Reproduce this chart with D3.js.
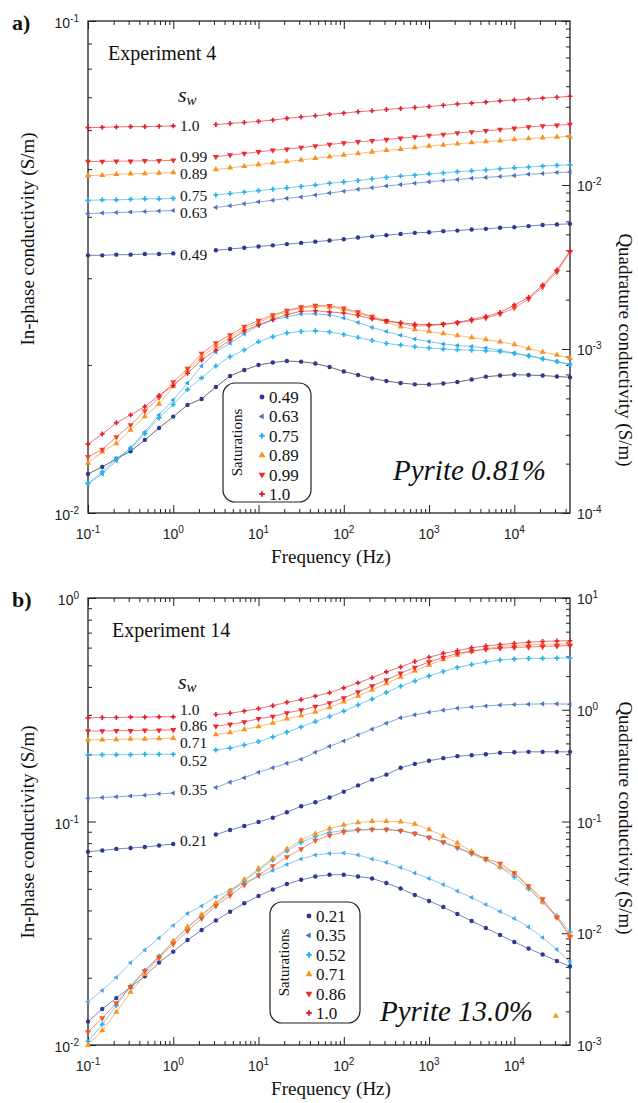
<!DOCTYPE html>
<html>
<head>
<meta charset="utf-8">
<script src="https://cdn.jsdelivr.net/npm/d3@7/dist/d3.min.js"></script>
<style>
  body { margin: 0; background: #fff; }
</style>
</head>
<body>
<script>
var width = 638;
var height = 1103;

// measurement frequencies (Hz)
var freqs = [0.1,0.147,0.215,0.316,0.464,0.681,1,1.47,2.15,3.16,4.64,6.81,10,14.7,21.5,31.6,46.4,68.1,
  100,147,215,316,464,681,1000,1470,2150,3160,4640,6810,10000,14700,21500,31600,45000];

var satA = ["0.49","0.63","0.75","0.89","0.99","1.0"];
var satB = ["0.21","0.35","0.52","0.71","0.86","1.0"];

// panel a, in-phase conductivity (S/m)
var aIn049 = [0.0334,0.0334,0.0335,0.0335,0.0336,0.0336,0.0337,null,null,0.0342,0.0344,0.0346,0.0348,0.0350,0.0352,0.0354,0.0356,0.0358,0.0360,0.0363,0.0365,0.0367,0.0369,0.0371,0.0372,0.0374,0.0375,0.0377,0.0378,0.0380,0.0381,0.0383,0.0385,0.0386,0.0387];
var aIn063 = [0.0406,0.0407,0.0408,0.0409,0.0410,0.0411,0.0412,null,null,0.0418,0.0421,0.0425,0.0429,0.0432,0.0436,0.0439,0.0443,0.0447,0.0451,0.0455,0.0458,0.0462,0.0465,0.0468,0.0471,0.0474,0.0476,0.0479,0.0481,0.0483,0.0485,0.0488,0.0490,0.0492,0.0493];
var aIn075 = [0.0432,0.0433,0.0433,0.0434,0.0435,0.0435,0.0436,null,null,0.0443,0.0446,0.0449,0.0452,0.0455,0.0458,0.0461,0.0464,0.0468,0.0471,0.0474,0.0478,0.0481,0.0484,0.0486,0.0489,0.0491,0.0494,0.0496,0.0498,0.0501,0.0503,0.0505,0.0507,0.0509,0.0510];
var aIn089 = [0.0485,0.0486,0.0488,0.0489,0.0490,0.0491,0.0492,null,null,0.0499,0.0503,0.0507,0.0511,0.0515,0.0518,0.0522,0.0526,0.0530,0.0534,0.0538,0.0542,0.0546,0.0549,0.0553,0.0557,0.0560,0.0563,0.0566,0.0569,0.0571,0.0574,0.0577,0.0579,0.0581,0.0582];
var aIn099 = [0.0518,0.0518,0.0519,0.0519,0.0520,0.0520,0.0521,null,null,0.0530,0.0534,0.0538,0.0542,0.0546,0.0549,0.0553,0.0557,0.0561,0.0565,0.0568,0.0571,0.0574,0.0578,0.0581,0.0585,0.0588,0.0592,0.0595,0.0598,0.0602,0.0605,0.0609,0.0612,0.0614,0.0616];
var aIn100 = [0.0607,0.0608,0.0609,0.0610,0.0610,0.0611,0.0612,null,null,0.0616,0.0619,0.0622,0.0625,0.0629,0.0634,0.0638,0.0642,0.0646,0.0650,0.0654,0.0657,0.0661,0.0664,0.0667,0.0670,0.0674,0.0678,0.0681,0.0684,0.0688,0.0691,0.0694,0.0697,0.0700,0.0703];

// panel a, quadrature conductivity (S/m)
var aQ049 = [1.73e-4,1.91e-4,2.14e-4,2.38e-4,2.79e-4,3.30e-4,3.87e-4,4.56e-4,4.96e-4,5.87e-4,6.85e-4,7.45e-4,7.99e-4,8.27e-4,8.45e-4,8.37e-4,8.16e-4,7.77e-4,7.29e-4,6.94e-4,6.61e-4,6.38e-4,6.20e-4,6.09e-4,6.08e-4,6.16e-4,6.29e-4,6.52e-4,6.78e-4,6.89e-4,6.97e-4,6.94e-4,6.89e-4,6.80e-4,6.72e-4];
var aQ063 = [1.50e-4,1.73e-4,2.08e-4,2.49e-4,3.12e-4,3.96e-4,4.89e-4,6.20e-4,7.88e-4,9.59e-4,1.083e-3,1.234e-3,1.391e-3,1.503e-3,1.567e-3,1.634e-3,1.639e-3,1.612e-3,1.545e-3,1.451e-3,1.353e-3,1.279e-3,1.212e-3,1.151e-3,1.111e-3,1.073e-3,1.050e-3,1.036e-3,1.014e-3,9.79e-4,9.45e-4,9.13e-4,8.75e-4,8.39e-4,7.99e-4];
var aQ075 = [1.52e-4,1.78e-4,2.15e-4,2.48e-4,3.05e-4,3.80e-4,4.59e-4,5.66e-4,6.66e-4,7.88e-4,8.98e-4,9.86e-4,1.106e-3,1.189e-3,1.252e-3,1.279e-3,1.291e-3,1.269e-3,1.226e-3,1.175e-3,1.127e-3,1.080e-3,1.058e-3,1.033e-3,1.014e-3,1.000e-3,9.90e-4,9.83e-4,9.75e-4,9.64e-4,9.39e-4,9.07e-4,8.69e-4,8.39e-4,8.10e-4];
var aQ089 = [2.02e-4,2.36e-4,2.65e-4,3.21e-4,3.88e-4,4.62e-4,5.91e-4,7.39e-4,8.94e-4,1.043e-3,1.175e-3,1.324e-3,1.451e-3,1.578e-3,1.693e-3,1.778e-3,1.816e-3,1.804e-3,1.741e-3,1.658e-3,1.556e-3,1.461e-3,1.368e-3,1.315e-3,1.279e-3,1.243e-3,1.209e-3,1.175e-3,1.143e-3,1.108e-3,1.065e-3,1.007e-3,9.59e-4,9.19e-4,8.78e-4];
var aQ099 = [2.20e-4,2.44e-4,2.91e-4,3.44e-4,4.19e-4,5.06e-4,6.29e-4,7.60e-4,9.39e-4,1.088e-3,1.217e-3,1.372e-3,1.492e-3,1.612e-3,1.717e-3,1.804e-3,1.842e-3,1.837e-3,1.771e-3,1.681e-3,1.578e-3,1.488e-3,1.431e-3,1.381e-3,1.387e-3,1.415e-3,1.441e-3,1.492e-3,1.545e-3,1.634e-3,1.778e-3,2.018e-3,2.388e-3,2.948e-3,3.904e-3];
var aQ100 = [2.63e-4,3.03e-4,3.55e-4,3.96e-4,4.45e-4,5.21e-4,5.99e-4,7.11e-4,8.57e-4,9.86e-4,1.135e-3,1.288e-3,1.401e-3,1.513e-3,1.623e-3,1.698e-3,1.710e-3,1.681e-3,1.658e-3,1.601e-3,1.528e-3,1.482e-3,1.447e-3,1.415e-3,1.407e-3,1.415e-3,1.451e-3,1.513e-3,1.578e-3,1.670e-3,1.855e-3,2.061e-3,2.456e-3,3.031e-3,3.959e-3];

// panel b, in-phase conductivity (S/m)
var bIn021 = [0.0733,0.0742,0.0754,0.0761,0.0769,0.0781,0.0793,null,null,0.0875,0.0916,0.0955,0.0995,0.104,0.110,0.117,0.122,0.128,0.136,0.145,0.154,0.162,0.174,0.181,0.187,0.192,0.196,0.198,0.200,0.203,0.204,0.205,0.205,0.205,0.205];
var bIn035 = [0.127,0.128,0.129,0.130,0.131,0.133,0.134,null,null,0.142,0.150,0.157,0.166,0.174,0.182,0.190,0.204,0.217,0.229,0.244,0.259,0.275,0.291,0.300,0.308,0.315,0.321,0.325,0.329,0.332,0.334,0.335,0.336,0.336,0.335];
var bIn052 = [0.198,0.199,0.199,0.199,0.200,0.200,0.200,null,null,0.209,0.213,0.220,0.228,0.239,0.251,0.265,0.280,0.295,0.312,0.332,0.353,0.378,0.403,0.425,0.448,0.469,0.489,0.504,0.517,0.528,0.534,0.536,0.537,0.538,0.539];
var bIn071 = [0.232,0.232,0.233,0.234,0.234,0.235,0.236,null,null,0.245,0.250,0.258,0.266,0.276,0.288,0.297,0.309,0.324,0.343,0.364,0.388,0.414,0.443,0.472,0.501,0.531,0.556,0.576,0.594,0.606,0.613,0.618,0.621,0.623,0.623];
var bIn086 = [0.254,0.254,0.255,0.255,0.256,0.256,0.257,null,null,0.267,0.272,0.279,0.288,0.295,0.306,0.315,0.327,0.339,0.357,0.380,0.404,0.430,0.460,0.489,0.517,0.542,0.565,0.579,0.590,0.596,0.601,0.604,0.607,0.610,0.613];
var bIn100 = [0.291,0.292,0.292,0.293,0.293,0.294,0.294,null,null,0.301,0.305,0.312,0.320,0.330,0.341,0.351,0.364,0.377,0.396,0.417,0.440,0.467,0.491,0.520,0.543,0.565,0.581,0.599,0.610,0.619,0.626,0.634,0.639,0.642,0.644];

// panel b, quadrature conductivity (S/m); no quadrature curve for 1.0
var bQ021 = [1.62e-3,2.10e-3,2.63e-3,3.30e-3,4.12e-3,5.47e-3,6.84e-3,8.70e-3,1.069e-2,1.301e-2,1.559e-2,1.854e-2,2.154e-2,2.463e-2,2.759e-2,3.008e-2,3.220e-2,3.334e-2,3.342e-2,3.220e-2,3.090e-2,2.817e-2,2.514e-2,2.199e-2,1.944e-2,1.718e-2,1.487e-2,1.287e-2,1.114e-2,9.65e-3,8.35e-3,7.30e-3,6.45e-3,5.65e-3,5.04e-3];
var bQ035 = [2.44e-3,3.07e-3,4.02e-3,5.45e-3,7.08e-3,9.07e-3,1.173e-2,1.502e-2,1.753e-2,2.111e-2,2.438e-2,2.817e-2,3.220e-2,3.644e-2,4.123e-2,4.617e-2,5.014e-2,5.172e-2,5.225e-2,5.014e-2,4.617e-2,4.296e-2,3.877e-2,3.461e-2,3.090e-2,2.731e-2,2.388e-2,2.089e-2,1.808e-2,1.565e-2,1.355e-2,1.137e-2,9.16e-3,7.15e-3,5.53e-3];
var bQ052 = [1.08e-3,1.53e-3,2.26e-3,3.37e-3,4.64e-3,6.26e-3,8.44e-3,1.114e-2,1.441e-2,1.827e-2,2.316e-2,2.935e-2,3.681e-2,4.523e-2,5.445e-2,6.488e-2,7.340e-2,7.973e-2,8.309e-2,8.464e-2,8.517e-2,8.482e-2,8.257e-2,7.779e-2,7.192e-2,6.488e-2,5.794e-2,5.119e-2,4.523e-2,3.916e-2,3.187e-2,2.489e-2,1.904e-2,1.427e-2,1.026e-2];
var bQ071 = [1.00e-3,1.35e-3,1.97e-3,2.98e-3,4.27e-3,6.07e-3,8.52e-3,1.137e-2,1.472e-2,1.865e-2,2.388e-2,3.027e-2,3.798e-2,4.667e-2,5.674e-2,6.831e-2,7.779e-2,8.658e-2,9.305e-2,9.797e-2,1.004e-1,1.006e-1,9.938e-2,9.497e-2,8.482e-2,7.418e-2,6.421e-2,5.390e-2,4.571e-2,3.916e-2,3.426e-2,2.594e-2,1.904e-2,1.398e-2,9.65e-3];
var bQ086 = [1.31e-3,1.74e-3,2.38e-3,3.32e-3,4.59e-3,6.07e-3,8.01e-3,1.047e-2,1.355e-2,1.753e-2,2.176e-2,2.703e-2,3.321e-2,3.998e-2,4.813e-2,5.674e-2,6.761e-2,7.496e-2,8.054e-2,8.342e-2,8.482e-2,8.482e-2,8.276e-2,7.811e-2,7.192e-2,6.556e-2,5.853e-2,5.225e-2,4.667e-2,4.209e-2,3.461e-2,2.648e-2,2.025e-2,1.383e-2,9.31e-3];
// a lone 0.71 point sitting away from its curve
var bQ071Stray = [{f: 30700, v: 1.82e-3}];

// tick exponents
var xExp = [-1, 0, 1, 2, 3, 4];

// styling per saturation step (lowest to highest)
var markColors = ["#2b3990", "#4b6fc0", "#27b2ea", "#f7931e", "#ec2a2f", "#e01f2b"];
var symbols = [d3.symbolCircle, d3.symbolTriangle, d3.symbolCross, d3.symbolTriangle, d3.symbolTriangle, d3.symbolCross];
var symbolRot = [0, -90, 0, 0, 180, 0];
var symbolSize = [15, 11, 14, 16, 16, 13];

var serif = "'Liberation Serif', 'Times New Roman', serif";
var sans = "'Liberation Sans', Arial, sans-serif";

var svg = d3.select('body').append('svg').attr('width', width).attr('height', height);

var x = d3.scaleLog().domain([0.1, 45000]).range([88, 570]);

var minorTicks = function(domain) {
  var out = [];
  var lo = Math.round(Math.log10(domain[0]));
  var hi = Math.ceil(Math.log10(domain[1]));
  for (var d = lo; d < hi; d++) {
    for (var k = 2; k <= 9; k++) {
      var v = k * Math.pow(10, d);
      if (v > domain[0] && v < domain[1]) out.push(v);
    }
  }
  return out;
};

var serifText = function(g) {
  return g.append('text').style('font-family', serif).attr('fill', '#111');
};

var powText = function(g, px, py, exp, anchor) {
  var t = g.append('text').style('font-family', sans).attr('font-size', 14).attr('fill', '#222')
    .attr('x', px).attr('y', py).attr('text-anchor', anchor);
  t.append('tspan').text('10');
  t.append('tspan').attr('dy', -6).attr('font-size', 10).text(exp);
  return t;
};

var drawSeries = function(g, yScale, vals, i, color, lineColor) {
  var pts = freqs.map(function(f, j) { return {f: f, v: vals[j]}; });
  var line = d3.line()
    .defined(function(d) { return d.v != null; })
    .x(function(d) { return x(d.f); })
    .y(function(d) { return yScale(d.v); });
  g.append('path').datum(pts).attr('d', line).attr('fill', 'none')
    .attr('stroke', lineColor || color).attr('stroke-width', 0.9).attr('stroke-opacity', 0.7);
  drawMarks(g, yScale, pts.filter(function(d) { return d.v != null; }), i, color);
};

var drawMarks = function(g, yScale, pts, i, color) {
  g.selectAll(null).data(pts).enter().append('path')
    .attr('d', d3.symbol().type(symbols[i]).size(symbolSize[i]))
    .attr('transform', function(d) {
      return 'translate(' + x(d.f) + ',' + yScale(d.v) + ') rotate(' + symbolRot[i] + ')';
    })
    .attr('fill', color);
};

var drawPanel = function(p) {
  var yIn = d3.scaleLog().domain(p.inDomain).range([p.bottom, p.top]);
  var yQ = d3.scaleLog().domain(p.qDomain).range([p.bottom, p.top]);
  var g = svg.append('g');

  var tickStyle = function(sel) {
    sel.select('.domain').remove();
    sel.selectAll('.tick line').attr('stroke', '#222').attr('stroke-width', 1);
  };
  var xMajor = xExp.map(function(e) { return Math.pow(10, e); });
  var xMinor = minorTicks(x.domain());
  [[d3.axisBottom, p.bottom], [d3.axisTop, p.top]].forEach(function(a) {
    g.append('g').attr('transform', 'translate(0,' + a[1] + ')')
      .call(a[0](x).tickValues(xMajor).tickSize(-8).tickFormat('')).call(tickStyle);
    g.append('g').attr('transform', 'translate(0,' + a[1] + ')')
      .call(a[0](x).tickValues(xMinor).tickSize(-4).tickFormat('')).call(tickStyle);
  });
  var inMajor = p.inExp.map(function(e) { return Math.pow(10, e); });
  var qMajor = p.qExp.map(function(e) { return Math.pow(10, e); });
  g.append('g').attr('transform', 'translate(88,0)')
    .call(d3.axisLeft(yIn).tickValues(inMajor).tickSize(-8).tickFormat('')).call(tickStyle);
  g.append('g').attr('transform', 'translate(88,0)')
    .call(d3.axisLeft(yIn).tickValues(minorTicks(p.inDomain)).tickSize(-4).tickFormat('')).call(tickStyle);
  g.append('g').attr('transform', 'translate(570,0)')
    .call(d3.axisRight(yQ).tickValues(qMajor).tickSize(-8).tickFormat('')).call(tickStyle);
  g.append('g').attr('transform', 'translate(570,0)')
    .call(d3.axisRight(yQ).tickValues(minorTicks(p.qDomain)).tickSize(-4).tickFormat('')).call(tickStyle);

  g.append('rect').attr('x', 88).attr('y', p.top).attr('width', 482).attr('height', p.bottom - p.top)
    .attr('fill', 'none').attr('stroke', '#222').attr('stroke-width', 1.3);

  // tick labels
  xExp.forEach(function(e) { powText(g, x(Math.pow(10, e)), p.bottom + 26, e, 'middle'); });
  p.inExp.forEach(function(e) { powText(g, 79, yIn(Math.pow(10, e)) + 7, e, 'end'); });
  p.qLabelExp.forEach(function(e) { powText(g, 577, yQ(Math.pow(10, e)) + 6, e, 'start'); });

  // axis titles
  serifText(g).attr('x', 331).attr('y', p.bottom + 50).attr('text-anchor', 'middle')
    .attr('font-size', 19).text('Frequency (Hz)');
  serifText(g).attr('transform', 'translate(34,' + p.inMid + ') rotate(-90)')
    .attr('text-anchor', 'middle').attr('font-size', 19).text('In-phase conductivity (S/m)');
  serifText(g).attr('transform', 'translate(619,' + p.qMid + ') rotate(90)')
    .attr('text-anchor', 'middle').attr('font-size', 19).text('Quadrature conductivity (S/m)');

  serifText(g).attr('x', 12).attr('y', p.top + 9).attr('font-size', 22).attr('font-weight', 'bold')
    .text(p.tag);
  serifText(g).attr('x', p.expX).attr('y', p.top + 39).attr('font-size', 20).text(p.title);

  // series
  p.inSeries.forEach(function(vals, i) { drawSeries(g, yIn, vals, i, markColors[i]); });
  p.qSeries.forEach(function(vals, i) {
    if (vals) drawSeries(g, yQ, vals, i, p.qColors[i], p.qLineColors[i]);
  });
  if (p.stray) drawMarks(g, yQ, p.stray, 3, p.qColors[3]);

  // saturation labels in the gap
  var sw = serifText(g).attr('x', 178).attr('y', p.swY).attr('font-style', 'italic').attr('font-size', 22);
  sw.append('tspan').text('s');
  sw.append('tspan').attr('font-size', 15).attr('dy', 3).text('w');
  p.sats.forEach(function(s, i) {
    serifText(g).attr('x', 180).attr('y', yIn(p.inSeries[i][6]) + p.labelNudge[i])
      .attr('dy', '0.35em').attr('font-size', 15.5).text(s);
  });

  // legend
  var L = p.legend;
  g.append('rect').attr('x', L.x).attr('y', L.y).attr('width', L.w).attr('height', L.h)
    .attr('rx', 12).attr('fill', '#fff').attr('stroke', '#222').attr('stroke-width', 1.2);
  serifText(g).attr('transform', 'translate(' + (L.x + 19) + ',' + (L.y + L.h / 2) + ') rotate(-90)')
    .attr('text-anchor', 'middle').attr('font-size', 15).text('Saturations');
  p.sats.forEach(function(s, i) {
    var yy = L.y + 14 + i * 19.4;
    g.append('path').attr('d', d3.symbol().type(symbols[i]).size(symbolSize[i] + 4))
      .attr('transform', 'translate(' + (L.x + 39) + ',' + yy + ') rotate(' + symbolRot[i] + ')')
      .attr('fill', markColors[i]);
    serifText(g).attr('x', L.x + 46).attr('y', yy).attr('dy', '0.35em').attr('font-size', 17).text(s);
  });

  serifText(g).attr('x', p.pyX).attr('y', p.pyY).attr('font-style', 'italic').attr('font-size', 29)
    .text(p.pyrite);
};

drawPanel({
  tag: 'a)', title: 'Experiment 4', expX: 108, top: 21, bottom: 513,
  inDomain: [0.01, 0.1], qDomain: [1e-4, 1e-1], inExp: [-2, -1], qExp: [-4, -3, -2, -1], qLabelExp: [-4, -3, -2],
  inMid: 239, qMid: 350, swY: 102, sats: satA,
  inSeries: [aIn049, aIn063, aIn075, aIn089, aIn099, aIn100],
  qSeries: [aQ049, aQ063, aQ075, aQ089, aQ099, aQ100],
  qColors: ["#2b3990", "#3a9fe2", "#27b2ea", "#f7931e", "#f0462c", "#e01f2b"],
  qLineColors: ["#111", null, null, null, null, null],
  labelNudge: [0.7, 2.3, -2.3, 1.3, -3.3, 0],
  legend: {x: 223, y: 383, w: 88, h: 119},
  pyrite: 'Pyrite 0.81%', pyX: 393, pyY: 480
});

drawPanel({
  tag: 'b)', title: 'Experiment 14', expX: 112, top: 598, bottom: 1045,
  inDomain: [0.01, 1], qDomain: [1e-3, 10], inExp: [-2, -1, 0], qExp: [-3, -2, -1, 0, 1], qLabelExp: [-3, -2, -1, 0, 1],
  inMid: 832, qMid: 818, swY: 689, sats: satB,
  inSeries: [bIn021, bIn035, bIn052, bIn071, bIn086, bIn100],
  qSeries: [bQ021, bQ035, bQ052, bQ071, bQ086, null],
  qColors: ["#2b3990", "#4aa8e6", "#27b2ea", "#f7931e", "#f05a28", "#e01f2b"],
  qLineColors: [null, null, null, null, null, null],
  labelNudge: [-3, -3.3, 6, 4.7, -4, -7.7],
  stray: bQ071Stray,
  legend: {x: 270, y: 902, w: 90, h: 121},
  pyrite: 'Pyrite 13.0%', pyX: 380, pyY: 1021
});
</script>
</body>
</html>
